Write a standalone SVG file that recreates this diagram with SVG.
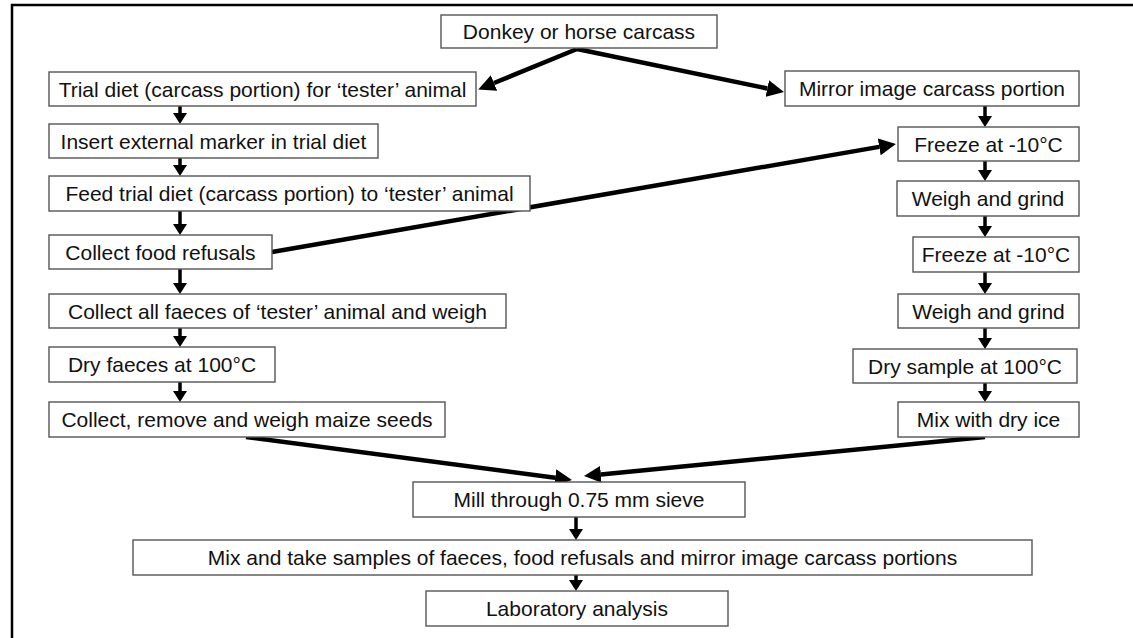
<svg xmlns="http://www.w3.org/2000/svg" width="1133" height="638" viewBox="0 0 1133 638">
<style>
.box{fill:#fff;stroke:#555;stroke-width:1.4}
.t{font-family:"Liberation Sans",Arial,sans-serif;font-size:21px;fill:#111;text-anchor:middle}
.v{stroke:#000;stroke-width:3.5;fill:none;marker-end:url(#hv)}
.d{stroke:#000;stroke-width:4.5;fill:none;marker-end:url(#hd)}
.frame{stroke:#000;stroke-width:2.5;fill:none}
</style>
<defs>
<marker id="hv" markerUnits="userSpaceOnUse" markerWidth="11" markerHeight="14" refX="0" refY="7" orient="auto"><path d="M0,0 L11,7 L0,14 z" fill="#000"/></marker>
<marker id="hd" markerUnits="userSpaceOnUse" markerWidth="17" markerHeight="17" refX="0" refY="8.5" orient="auto"><path d="M0,0 L17,8.5 L0,17 z" fill="#000"/></marker>
</defs>
<rect width="1133" height="638" fill="#fff"/>
<path class="frame" d="M12,638 V5 H1133"/>
<g id="connectors">
<line class="d" x1="577" y1="49" x2="494" y2="83"/>
<line class="d" x1="577" y1="49" x2="767.3" y2="88.5"/>
<line class="d" x1="272" y1="252" x2="879.2" y2="146.9"/>
<line class="d" x1="246" y1="437" x2="555.1" y2="477.8"/>
<line class="d" x1="985" y1="437" x2="600.9" y2="474.4"/>
<line class="v" x1="180" y1="106" x2="180" y2="113"/>
<line class="v" x1="180" y1="158" x2="180" y2="165"/>
<line class="v" x1="180" y1="211" x2="180" y2="224"/>
<line class="v" x1="180" y1="269" x2="180" y2="283"/>
<line class="v" x1="180" y1="328" x2="180" y2="336"/>
<line class="v" x1="180" y1="382" x2="180" y2="391"/>
<line class="v" x1="985" y1="106" x2="985" y2="116"/>
<line class="v" x1="985" y1="161" x2="985" y2="170"/>
<line class="v" x1="985" y1="216" x2="985" y2="226"/>
<line class="v" x1="985" y1="272" x2="985" y2="283"/>
<line class="v" x1="985" y1="328" x2="985" y2="338"/>
<line class="v" x1="985" y1="383" x2="985" y2="391"/>
<line class="v" x1="576" y1="517" x2="576" y2="529"/>
<line class="v" x1="576" y1="575" x2="576" y2="580"/>
</g>
<g id="donkey"><rect class="box" x="441" y="15" width="276" height="33"/><text class="t" x="579" y="39">Donkey or horse carcass</text></g>
<g id="trial"><rect class="box" x="49" y="72" width="427" height="34"/><text class="t" x="262.5" y="96.5">Trial diet (carcass portion) for ‘tester’ animal</text></g>
<g id="mirror"><rect class="box" x="785" y="71" width="294" height="35"/><text class="t" x="932" y="96">Mirror image carcass portion</text></g>
<g id="insert"><rect class="box" x="49" y="124" width="329" height="34"/><text class="t" x="213.5" y="148.5">Insert external marker in trial diet</text></g>
<g id="freeze1"><rect class="box" x="898" y="127" width="181" height="34"/><text class="t" x="988.5" y="151.5">Freeze at -10°C</text></g>
<g id="feed"><rect class="box" x="49" y="176" width="481" height="35"/><text class="t" x="289.5" y="201">Feed trial diet (carcass portion) to ‘tester’ animal</text></g>
<g id="weigh1"><rect class="box" x="897" y="181" width="182" height="35"/><text class="t" x="988" y="206">Weigh and grind</text></g>
<g id="refusals"><rect class="box" x="49" y="235" width="223" height="34"/><text class="t" x="160.5" y="259.5">Collect food refusals</text></g>
<g id="freeze2"><rect class="box" x="913" y="237" width="166" height="35"/><text class="t" x="996" y="262">Freeze at -10°C</text></g>
<g id="faeces"><rect class="box" x="49" y="294" width="457" height="34"/><text class="t" x="277.5" y="318.5">Collect all faeces of ‘tester’ animal and weigh</text></g>
<g id="weigh2"><rect class="box" x="898" y="294" width="181" height="34"/><text class="t" x="988.5" y="318.5">Weigh and grind</text></g>
<g id="dryfaeces"><rect class="box" x="49" y="347" width="226" height="35"/><text class="t" x="162" y="372">Dry faeces at 100°C</text></g>
<g id="drysample"><rect class="box" x="853" y="349" width="224" height="34"/><text class="t" x="965" y="373.5">Dry sample at 100°C</text></g>
<g id="maize"><rect class="box" x="49" y="402" width="396" height="35"/><text class="t" x="247" y="427">Collect, remove and weigh maize seeds</text></g>
<g id="dryice"><rect class="box" x="898" y="402" width="181" height="35"/><text class="t" x="988.5" y="427">Mix with dry ice</text></g>
<g id="mill"><rect class="box" x="413" y="482" width="332" height="35"/><text class="t" x="579" y="507">Mill through 0.75 mm sieve</text></g>
<g id="samples"><rect class="box" x="133" y="540" width="899" height="35"/><text class="t" x="582.5" y="565">Mix and take samples of faeces, food refusals and mirror image carcass portions</text></g>
<g id="lab"><rect class="box" x="426" y="591" width="302" height="35"/><text class="t" x="577" y="616">Laboratory analysis</text></g>
</svg>
